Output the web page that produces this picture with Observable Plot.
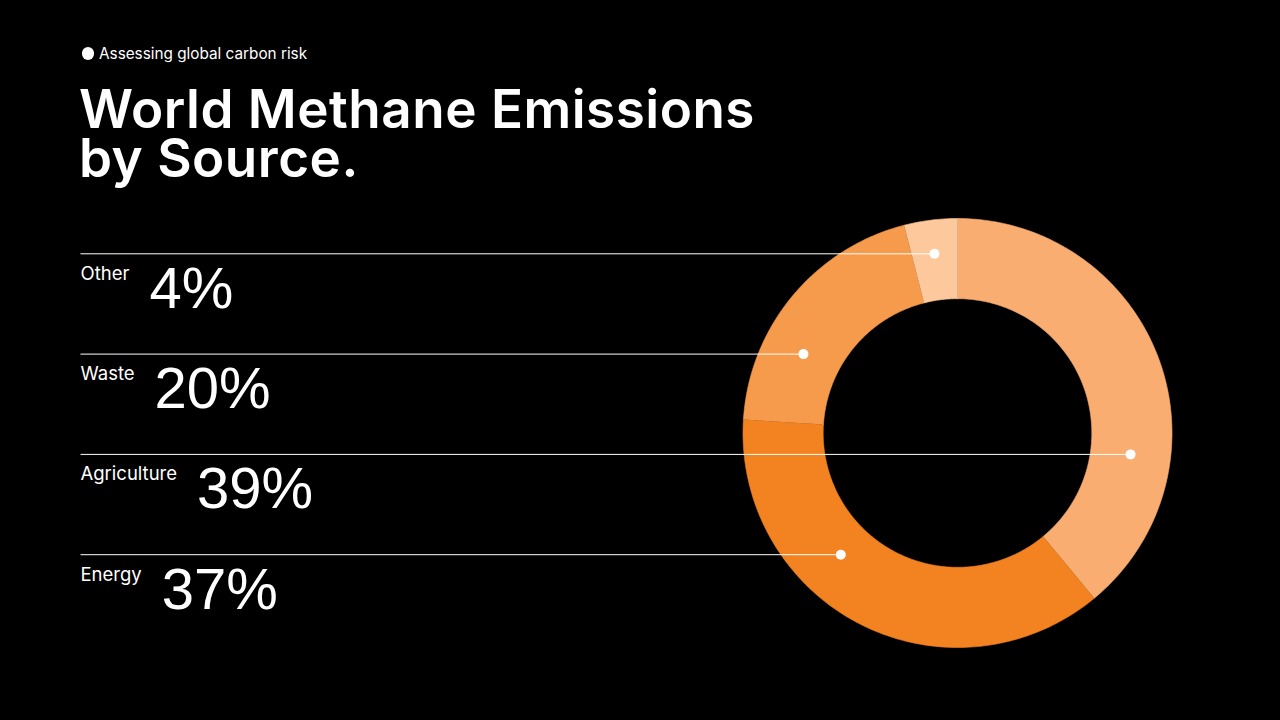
<!DOCTYPE html>
<html><head><meta charset="utf-8">
<script src="https://cdn.jsdelivr.net/npm/d3@7"></script>
<script src="https://cdn.jsdelivr.net/npm/@observablehq/plot@0.6"></script>
<style>
html,body{margin:0;padding:0;background:#000;}
body{width:1280px;height:720px;overflow:hidden;position:relative;font-family:Inter,sans-serif;color:#fff;}
#header{position:relative;height:200px;}
#kicker-dot{position:absolute;left:81.5px;top:47px;width:12.5px;height:12.5px;border-radius:50%;background:#fff;}
#kicker{position:absolute;left:99px;top:46px;font-size:15.3px;line-height:15.3px;white-space:nowrap;}
.title{position:absolute;left:79px;font-size:53px;line-height:48px;height:48px;font-weight:600;margin:0;letter-spacing:0.5px;white-space:nowrap;}
#title1{top:85.4px;}
#title2{top:133.6px;}
#chart{position:absolute;left:0;top:200px;}
</style></head>
<body>
<div id="header">
  <div id="kicker-dot"></div>
  <div id="kicker">Assessing global carbon risk</div>
  <div class="title" id="title1">World Methane Emissions</div>
  <div class="title" id="title2">by Source.</div>
</div>
<div id="chart"></div>
<script>
// ---- data ----
const categories = ["Other", "Waste", "Agriculture", "Energy"];   // listing order (top to bottom)
const shares = [4, 20, 39, 37];                                     // percent of world methane emissions
const pieOrder = ["Agriculture", "Energy", "Waste", "Other"];       // clockwise from 12 o'clock
const palette = ["#FDC89C", "#F69A4C", "#F9AD71", "#F38221"];       // matches categories

// ---- layout (page pixels) ----
const W = 1280, H = 520, top0 = 200;
const cxPx = 957, cyPx = 432.5, R = 214.5, Rin = 134.3;
const leftPx = 80, rowTop = 253.3, rowStep = 100.3;
const labelFont = 18.5, pctFont = 58, gap = 20;
const labelFamily = "Inter, sans-serif", pctFamily = "'Liberation Sans', Arial, sans-serif";

const toX = px => (px - cxPx) / R;
const toY = py => (cyPx - py) / R;
const rIn = Rin / R;

const pieData = pieOrder.map(c => ({category: c, share: shares[categories.indexOf(c)]}));
const arcs = d3.pie().sort(null).value(d => d.share)(pieData);

const slicePts = [];
for (const a of arcs) {
  const N = Math.max(8, Math.ceil((a.endAngle - a.startAngle) * 60));
  for (let k = 0; k <= N; k++) {
    const t = a.startAngle + (a.endAngle - a.startAngle) * k / N;
    slicePts.push({category: a.data.category, x: Math.sin(t), y: Math.cos(t)});
  }
  for (let k = N; k >= 0; k--) {
    const t = a.startAngle + (a.endAngle - a.startAngle) * k / N;
    slicePts.push({category: a.data.category, x: rIn * Math.sin(t), y: rIn * Math.cos(t)});
  }
}

// leader rows: the dot sits in the middle of the longest stretch of the row line inside its slice
const ctx = document.createElement("canvas").getContext("2d");
ctx.font = `400 ${labelFont}px Inter`;
const rows = categories.map((c, i) => {
  const a = arcs.find(d => d.data.category === c);
  const v = toY(rowTop + i * rowStep);
  const segs = [];
  let cur = null;
  for (let x = -1; x <= 1; x += 0.0005) {
    const r = Math.hypot(x, v);
    let ang = Math.atan2(x, v); if (ang < 0) ang += 2 * Math.PI;
    const inside = r >= rIn && r <= 1 && ang >= a.startAngle && ang <= a.endAngle;
    if (inside) { if (!cur) { cur = [x, x]; segs.push(cur); } else cur[1] = x; }
    else cur = null;
  }
  const best = segs.reduce((m, s) => (!m || s[1] - s[0] > m[1] - m[0]) ? s : m, null);
  const w = ctx.measureText(c).width;
  return {
    category: c, share: shares[i], y: v, dotX: (best[0] + best[1]) / 2,
    labelY: v - 26 / R, pctY: v - 54 / R,
    pctX: toX(leftPx + w + gap)
  };
});

const chart = Plot.plot({
  width: W, height: H,
  margin: 0,
  style: {background: "#000", color: "#fff", fontFamily: labelFamily},
  x: {axis: null, domain: [toX(0), toX(W)]},
  y: {axis: null, domain: [toY(top0 + H), toY(top0)]},
  color: {domain: categories, range: palette},
  marks: [
    Plot.line(slicePts, {x: "x", y: "y", z: "category", fill: "category", stroke: "category", strokeWidth: 0.6, curve: "linear"}),
    Plot.link(rows, {x1: toX(leftPx), x2: "dotX", y1: "y", y2: "y", stroke: "#fff", strokeWidth: 1}),
    Plot.dot(rows, {x: "dotX", y: "y", r: 5, fill: "#fff"}),
    Plot.text(rows, {x: toX(leftPx), y: "labelY", text: "category", textAnchor: "start", lineAnchor: "bottom", fontSize: labelFont, fontFamily: labelFamily, fill: "#fff"}),
    Plot.text(rows, {x: "pctX", y: "pctY", text: d => d.share + "%", textAnchor: "start", lineAnchor: "bottom", fontSize: pctFont, fontFamily: pctFamily, fill: "#fff"})
  ]
});
document.getElementById("chart").appendChild(chart);
</script>
</body></html>
